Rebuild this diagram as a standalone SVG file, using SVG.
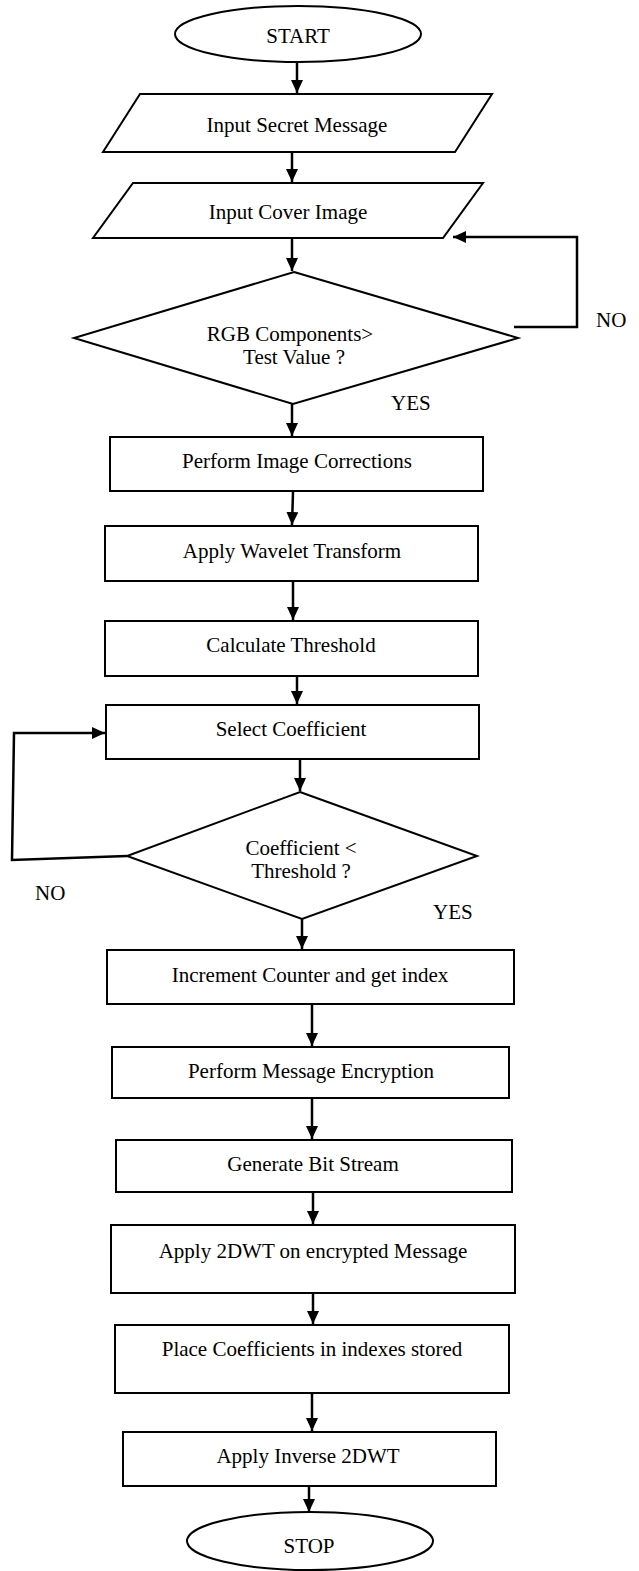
<svg xmlns="http://www.w3.org/2000/svg" width="639" height="1571" viewBox="0 0 639 1571">
  <style>
    .shape { fill: #ffffff; stroke: #000000; stroke-width: 2; }
    .line { fill: none; stroke: #000000; stroke-width: 2.5; }
    .label { font-family: "Liberation Serif", "Times New Roman", serif; font-size: 21px; fill: #000000; text-anchor: middle; }
    .tag { font-family: "Liberation Serif", "Times New Roman", serif; font-size: 21px; fill: #000000; }
  </style>
  <defs>
    <marker id="arrow" viewBox="0 0 13 12" refX="13" refY="6" markerWidth="13" markerHeight="12" orient="auto" markerUnits="userSpaceOnUse">
      <path d="M0,0 L13,6 L0,12 z" fill="#000000"/>
    </marker>
  </defs>

  <g id="connectors">
    <line class="line" x1="297" y1="62" x2="297" y2="93" marker-end="url(#arrow)"/>
    <line class="line" x1="292" y1="152" x2="292" y2="182" marker-end="url(#arrow)"/>
    <line class="line" x1="292" y1="238" x2="292" y2="271" marker-end="url(#arrow)"/>
    <polyline class="line" points="514,327 577,327 577,237 453,237" marker-end="url(#arrow)"/>
    <line class="line" x1="292" y1="404" x2="292" y2="436" marker-end="url(#arrow)"/>
    <line class="line" x1="293" y1="492" x2="292" y2="525" marker-end="url(#arrow)"/>
    <line class="line" x1="293" y1="581" x2="293" y2="620" marker-end="url(#arrow)"/>
    <line class="line" x1="297" y1="676" x2="297" y2="704" marker-end="url(#arrow)"/>
    <polyline class="line" points="127,856 12,860 14,733 105,733" marker-end="url(#arrow)"/>
    <line class="line" x1="300" y1="759" x2="300" y2="791" marker-end="url(#arrow)"/>
    <line class="line" x1="302" y1="919" x2="302" y2="949" marker-end="url(#arrow)"/>
    <line class="line" x1="312" y1="1004" x2="312" y2="1046" marker-end="url(#arrow)"/>
    <line class="line" x1="312" y1="1098" x2="312" y2="1139" marker-end="url(#arrow)"/>
    <line class="line" x1="313" y1="1192" x2="313" y2="1224" marker-end="url(#arrow)"/>
    <line class="line" x1="313" y1="1293" x2="313" y2="1324" marker-end="url(#arrow)"/>
    <line class="line" x1="312" y1="1393" x2="312" y2="1431" marker-end="url(#arrow)"/>
    <line class="line" x1="309" y1="1486" x2="309" y2="1512" marker-end="url(#arrow)"/>
  </g>

  <g id="start">
    <ellipse class="shape" cx="298" cy="34" rx="123" ry="28"/>
    <text class="label" x="298" y="43">START</text>
  </g>

  <g id="input-secret-message">
    <polygon class="shape" points="140,94 492,94 455,152 103,152"/>
    <text class="label" x="297" y="132">Input Secret Message</text>
  </g>

  <g id="input-cover-image">
    <polygon class="shape" points="133,183 483,183 443,238 93,238"/>
    <text class="label" x="288" y="219">Input Cover Image</text>
  </g>

  <g id="rgb-test">
    <polygon class="shape" points="294,272 518,338 293,404 74,338"/>
    <text class="label" x="290" y="341">RGB Components&gt;</text>
    <text class="label" x="294" y="364">Test Value ?</text>
  </g>
  <text class="tag" x="596" y="327">NO</text>
  <text class="tag" x="391" y="410">YES</text>

  <g id="image-corrections">
    <rect class="shape" x="110" y="437" width="373" height="54"/>
    <text class="label" x="297" y="468">Perform Image Corrections</text>
  </g>

  <g id="wavelet-transform">
    <rect class="shape" x="105" y="526" width="373" height="55"/>
    <text class="label" x="292" y="558">Apply Wavelet Transform</text>
  </g>

  <g id="calculate-threshold">
    <rect class="shape" x="105" y="621" width="373" height="55"/>
    <text class="label" x="291" y="652">Calculate Threshold</text>
  </g>

  <g id="select-coefficient">
    <rect class="shape" x="106" y="705" width="373" height="54"/>
    <text class="label" x="291" y="736">Select Coefficient</text>
  </g>

  <g id="coefficient-test">
    <polygon class="shape" points="300,792 477,856 302,919 127,856"/>
    <text class="label" x="301" y="855">Coefficient &lt;</text>
    <text class="label" x="301" y="878">Threshold ?</text>
  </g>
  <text class="tag" x="35" y="900">NO</text>
  <text class="tag" x="433" y="919">YES</text>

  <g id="increment-counter">
    <rect class="shape" x="107" y="950" width="407" height="54"/>
    <text class="label" x="310" y="982">Increment Counter and get index</text>
  </g>

  <g id="message-encryption">
    <rect class="shape" x="112" y="1047" width="397" height="51"/>
    <text class="label" x="311" y="1078">Perform Message Encryption</text>
  </g>

  <g id="bit-stream">
    <rect class="shape" x="116" y="1140" width="396" height="52"/>
    <text class="label" x="313" y="1171">Generate Bit Stream</text>
  </g>

  <g id="apply-2dwt">
    <rect class="shape" x="111" y="1225" width="404" height="68"/>
    <text class="label" x="313" y="1258">Apply 2DWT on encrypted Message</text>
  </g>

  <g id="place-coefficients">
    <rect class="shape" x="115" y="1325" width="394" height="68"/>
    <text class="label" x="312" y="1356">Place Coefficients in indexes stored</text>
  </g>

  <g id="inverse-2dwt">
    <rect class="shape" x="123" y="1432" width="373" height="54"/>
    <text class="label" x="308" y="1463">Apply Inverse 2DWT</text>
  </g>

  <g id="stop">
    <ellipse class="shape" cx="310" cy="1541" rx="123" ry="29"/>
    <text class="label" x="309" y="1553">STOP</text>
  </g>
</svg>
